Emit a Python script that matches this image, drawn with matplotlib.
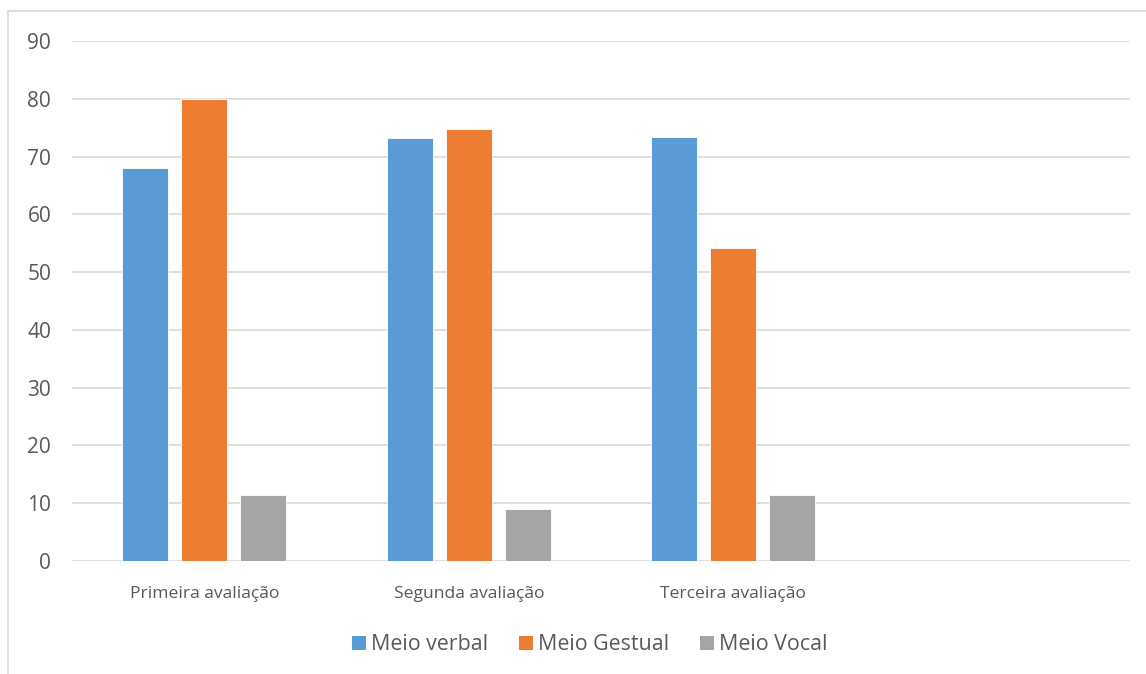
import numpy as np
from matplotlib import pyplot as plt
from matplotlib.patches import Rectangle, Patch

# avaliações (a quarta categoria fica vazia)
categorias = ['Primeira avaliação', 'Segunda avaliação', 'Terceira avaliação', '']
meio_verbal = [68.0, 73.2, 73.4, np.nan]
meio_gestual = [80.0, 74.8, 54.2, np.nan]
meio_vocal = [11.5, 9.0, 11.4, np.nan]

series = ['Meio verbal', 'Meio Gestual', 'Meio Vocal']
cores = ['#5B9BD5', '#ED7D31', '#A5A5A5']
texto = '#595959'

plt.rcParams['font.family'] = ['Open Sans', 'DejaVu Sans']

fig = plt.figure(figsize=(11.46, 6.74), dpi=100)
W, H = 1146, 674

# moldura da área do gráfico
fig.patches.append(Rectangle((8 / W, -0.1), 1.2, 1 - 11 / H + 0.1,
                             transform=fig.transFigure, fill=False,
                             edgecolor='#D9D9D9', linewidth=1.2))

ax = fig.add_axes([72 / W, 1 - 561 / H, (1130 - 72) / W, (561 - 41) / H])

x = np.arange(len(categorias))
larg = 0.174
passo = 0.223
for i, (vals, cor) in enumerate(zip([meio_verbal, meio_gestual, meio_vocal], cores)):
    ax.bar(x + (i - 1) * passo, vals, width=larg, color=cor,
           edgecolor='white', linewidth=0.6, zorder=3)

ax.set_xlim(-0.5, len(categorias) - 0.5)
ax.set_ylim(0, 90)
ax.set_yticks(range(0, 91, 10))
ax.set_xticks(x)
ax.set_xticklabels(categorias)
ax.tick_params(axis='both', length=0, colors=texto)
ax.tick_params(axis='y', pad=15, labelsize=15)
ax.tick_params(axis='x', pad=18, labelsize=12.6)
ax.grid(axis='y', color='#D9D9D9', linewidth=1.2, zorder=0)
for s in ax.spines.values():
    s.set_visible(False)

handles = [Patch(facecolor=c, label=s) for s, c in zip(series, cores)]
fig.legend(handles=handles, loc='center', bbox_to_anchor=(590 / W, 1 - 645 / H),
           ncol=3, frameon=False, fontsize=15.4, labelcolor=texto,
           handlelength=0.65, handleheight=0.65, handletextpad=0.23,
           columnspacing=1.45)

fig.savefig('out.png', dpi=100)
